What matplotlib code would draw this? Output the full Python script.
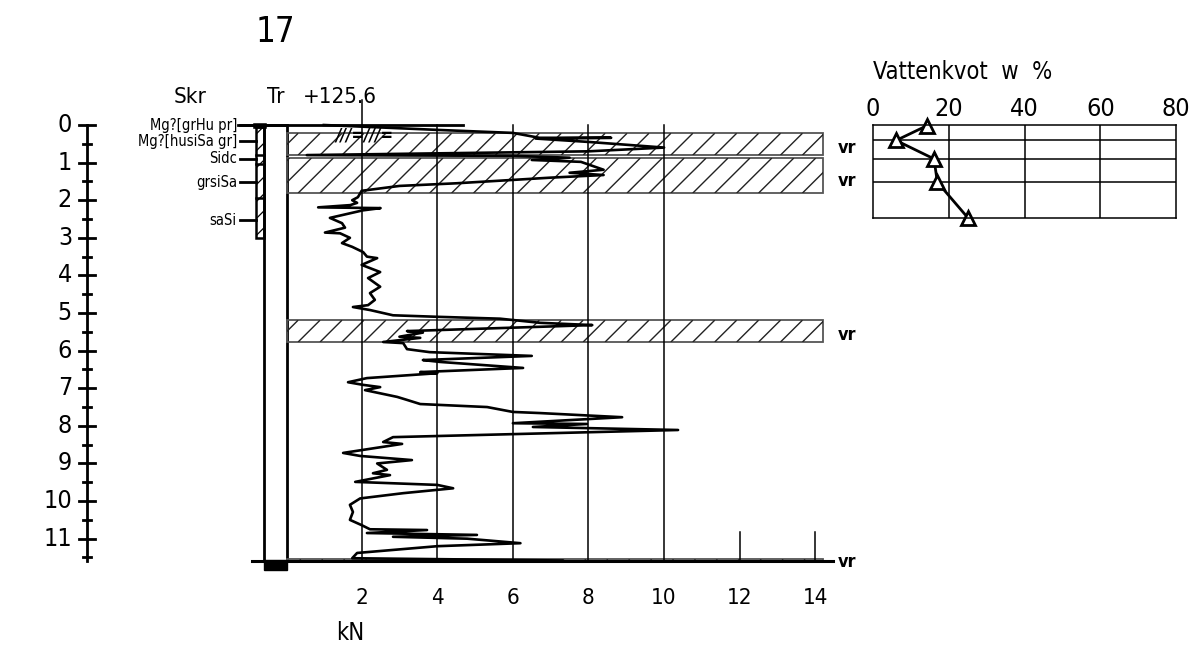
import numpy as np
import matplotlib.pyplot as plt
from matplotlib.patches import Rectangle
from matplotlib.collections import LineCollection

plt.rcParams['font.family'] = ['DejaVu Sans']
plt.rcParams['font.stretch'] = 'condensed'

# sounding curve: force [kN] vs depth [m]
force = [1.0, 4.0, 6.0, 6.7, 8.6, 6.6, 8.0, 10.0, 8.0, 0.55, 6.0, 7.5, 6.5, 7.8, 8.4, 7.5, 8.4, 7.0,
         4.5, 3.0, 2.0, 1.9, 1.75, 1.88, 1.7, 0.85, 2.5, 2.03, 1.16, 1.48, 1.56, 1.03, 1.43, 1.69,
         1.48, 1.75, 2.04, 2.14, 2.41, 2.0, 2.49, 2.17, 2.49, 2.22, 2.35, 2.17, 1.77, 2.22, 2.83,
         4.0, 5.66, 6.72, 8.1, 7.2, 3.2, 3.62, 3.0, 3.55, 2.57, 3.1, 3.2, 3.8, 6.5, 3.62, 4.07,
         6.27, 3.55, 4.0, 2.14, 1.64, 2.04, 2.49, 2.09, 2.94, 3.2, 3.55, 5.32, 6.0, 6.72, 8.89,
         6.0, 7.96, 6.53, 10.37, 2.83, 2.57, 3.07, 1.51, 1.96, 3.33, 2.41, 2.67, 2.3, 2.75, 1.83,
         4.0, 4.42, 3.1, 1.96, 1.69, 1.77, 1.69, 2.0, 2.22, 3.73, 2.14, 5.05, 2.83, 4.79, 6.2,
         4.0, 1.88, 1.75, 7.3]
depth = [0.0, 0.13, 0.21, 0.34, 0.34, 0.36, 0.45, 0.60, 0.70, 0.80, 0.82, 0.87, 0.93, 0.98, 1.19,
         1.27, 1.33, 1.40, 1.55, 1.62, 1.75, 1.92, 2.0, 2.07, 2.13, 2.19, 2.21, 2.27, 2.47, 2.61,
         2.73, 2.86, 2.88, 3.0, 3.14, 3.24, 3.38, 3.5, 3.54, 3.72, 3.91, 4.07, 4.3, 4.47, 4.65,
         4.79, 4.84, 4.92, 5.06, 5.10, 5.15, 5.26, 5.32, 5.35, 5.48, 5.52, 5.63, 5.66, 5.77, 5.80,
         5.96, 6.04, 6.14, 6.25, 6.30, 6.46, 6.57, 6.60, 6.73, 6.84, 6.91, 6.97, 7.05, 7.23, 7.31,
         7.42, 7.50, 7.63, 7.66, 7.77, 7.93, 7.95, 8.03, 8.11, 8.30, 8.43, 8.48, 8.72, 8.80, 8.91,
         9.0, 9.17, 9.26, 9.31, 9.49, 9.57, 9.66, 9.79, 9.93, 10.1, 10.29, 10.5, 10.64, 10.75,
         10.77, 10.85, 10.90, 10.95, 11.0, 11.12, 11.2, 11.38, 11.52, 11.58]

bottom_depth = 11.6
vr_bands = [(0.22, 0.80), (0.88, 1.81), (5.19, 5.77), (11.55, 11.62)]
kn_ticks = [2, 4, 6, 8, 10, 12, 14]
depth_labels = list(range(12))

soil_labels = ['Mg?[grHu pr]', 'Mg?[husiSa gr]', 'Sidc', 'grsiSa', 'saSi']
soil_depths = [0.0, 0.43, 0.9, 1.52, 2.53]
skr_layers = [0.05, 0.8, 1.05, 1.95]
skr_bottom = 3.0

# water content
w_values = [14.2, 6.1, 16.1, 17.0, 25.1]
w_depths = [0.02, 0.41, 0.90, 1.52, 2.47]
w_ticks = [0, 20, 40, 60, 80]

fig = plt.figure(figsize=(11.96, 6.53), dpi=100)
ax = fig.add_axes([0, 0, 1, 1])
# same scale on both axes: ~37.7 px per unit
ax.set_xlim(-7.566, 24.07)
ax.set_ylim(14.04, -3.324)
ax.axis('off')

# depth scale
xd = -5.26
ax.plot([xd, xd], [0, 11.6], color='black', lw=2)
for d in np.arange(0, 11.51, 0.5):
    half = 0.22 if d % 1 == 0 else 0.1
    ax.plot([xd - half, xd + half], [d, d], color='black', lw=2)
for d in depth_labels:
    ax.text(xd - 0.4, d, str(d), ha='right', va='center', fontsize=18)

# headers
ax.text(-0.29, -2.47, '17', ha='center', va='center', fontsize=25)
ax.text(-2.54, -0.74, 'Skr', ha='center', va='center', fontsize=16)
ax.text(-0.26, -0.74, 'Tr', ha='center', va='center', fontsize=16)
ax.text(1.43, -0.74, '+125.6', ha='center', va='center', fontsize=16)

# Skr column
skr = Rectangle((-0.79, 0), 0.21, skr_bottom, fill=False, lw=1.8, ec='black')
ax.add_patch(skr)
segs = [[(x0, skr_bottom), (x0 + skr_bottom, 0)] for x0 in np.arange(-4, 1, 0.45)]
lc = LineCollection(segs, colors='black', linewidths=0.9)
ax.add_collection(lc)
lc.set_clip_path(skr)
for d in skr_layers:
    ax.plot([-0.79, -0.58], [d, d], color='black', lw=1.8)
ax.plot([-0.79, -0.58], [0.02, 0.02], color='black', lw=4)
for lab, d in zip(soil_labels, soil_depths):
    ax.plot([-1.22, -0.79], [d, d], color='black', lw=2)
    ax.text(-1.3, d, lab, ha='right', va='center', fontsize=10.5)

# Tr column
ax.add_patch(Rectangle((-0.58, 0), 0.61, bottom_depth, fill=False, lw=2, ec='black'))
ax.add_patch(Rectangle((-0.58, bottom_depth - 0.03), 0.61, 0.27, color='black'))

# top line
ax.plot([-1.27, 4.68], [0, 0], color='black', lw=2)

# vr bands
x_right = 14.2
for top, bot in vr_bands:
    band = Rectangle((0.03, top), x_right - 0.03, bot - top, fill=False, lw=1.3, ec='#555555')
    ax.add_patch(band)
    h = bot - top
    segs = [[(x0, bot), (x0 + h, top)] for x0 in np.arange(-2, x_right + 1, 0.58)]
    lc = LineCollection(segs, colors='#222222', linewidths=1.0)
    ax.add_collection(lc)
    lc.set_clip_path(band)
    ax.text(14.6, min(top + 0.6 * h + 0.05, 11.65) if h > 0.2 else 11.62, 'vr',
            ha='left', va='center', fontsize=13, fontweight='bold')

# bottom line
ax.plot([-0.9, 14.47], [bottom_depth, bottom_depth], color='black', lw=2.2)

# grid
for k in kn_ticks:
    top = 0 if k <= 10 else 10.82
    ax.plot([k, k], [top, bottom_depth], color='black', lw=1.1)
    ax.text(k, 12.58, str(k), ha='center', va='center', fontsize=16)
ax.plot([2, 2], [-0.66, 0], color='black', lw=1.1)
ax.text(1.7, 13.5, 'kN', ha='center', va='center', fontsize=17)

# hammering symbol
ax.text(1.3, 0.27, '///=///=', ha='left', va='center', fontsize=12, fontweight='bold', style='italic')

# sounding curve
ax.plot(force, depth, color='black', lw=1.9)

# water content
ax2 = fig.add_axes([873 / 1196, 1 - 218 / 653, 303 / 1196, 93 / 653])
ax2.set_xlim(0, 80)
ax2.set_ylim(w_depths[-1], 0)
ax2.xaxis.tick_top()
ax2.set_xticks(w_ticks)
ax2.tick_params(axis='x', length=0, labelsize=18, pad=3)
ax2.set_yticks([])
for s in ax2.spines.values():
    s.set_linewidth(1.1)
for t in w_ticks[1:-1]:
    ax2.axvline(t, color='black', lw=1.1)
for d in w_depths[1:-1]:
    ax2.axhline(d, color='black', lw=1.1)
ax2.plot(w_values, w_depths, color='black', lw=2, marker='^', markersize=10,
         markerfacecolor='white', markeredgewidth=2, clip_on=False)
fig.text(873 / 1196, 1 - 72 / 653, 'Vattenkvot  w  %', ha='left', va='center', fontsize=17)

fig.savefig('out.png', dpi=100)
